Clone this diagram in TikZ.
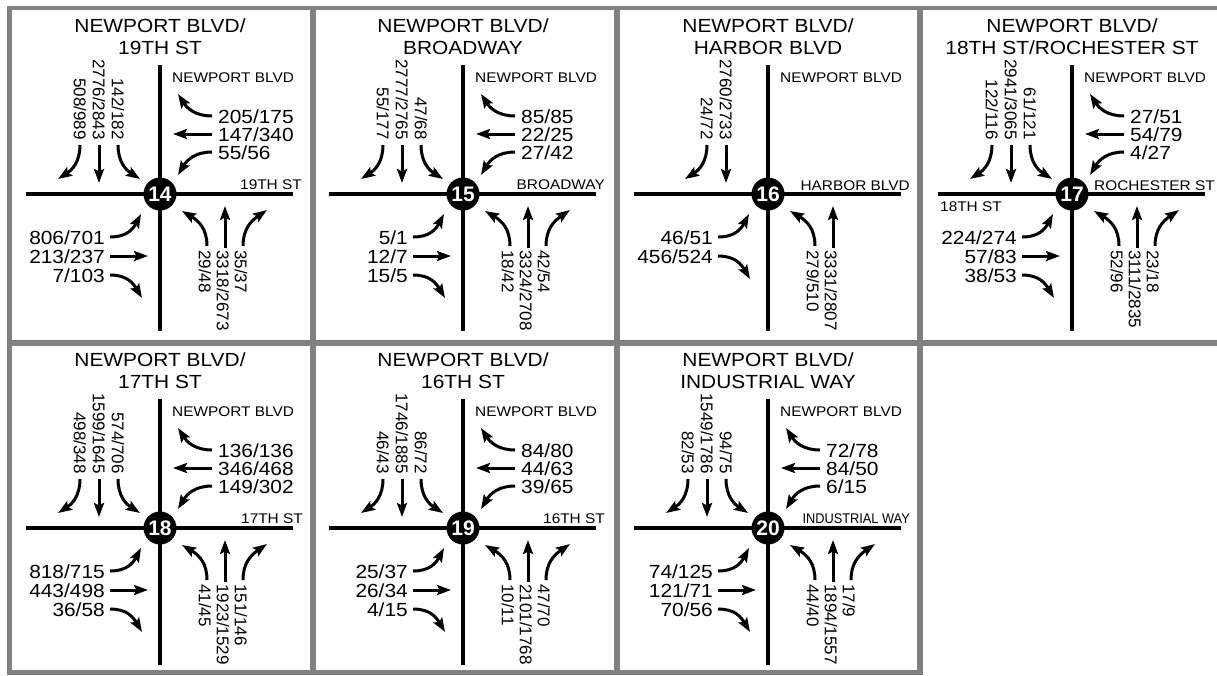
\documentclass[tikz,border=0pt]{standalone}
\usepackage{fontspec}
\setmainfont{Liberation Sans}[FakeStretch=1.1]
\newfontfamily\rotf{Liberation Sans}
\newfontfamily\numf{Liberation Sans}
\usetikzlibrary{arrows.meta}
\definecolor{framegray}{RGB}{128,128,130}
\newcounter{lbl}
\tikzset{
  road/.style={line width=3.2pt},
  mv/.style={line width=3pt,-{Stealth[length=14pt,width=10pt,inset=2.5pt]}},
  vol/.style={font=\fontsize{19}{19}\selectfont,inner sep=0pt},
  rvol/.style={font=\rotf\fontsize{17}{17}\selectfont,inner sep=0pt,rotate=-90,text height=12.2pt,text depth=0pt},
  ttl/.style={font=\fontsize{19}{19}\selectfont,inner sep=0pt},
  street/.style={font=\fontsize{14}{14}\selectfont,inner sep=0pt},
  num/.style={circle,fill=black,minimum size=33pt,inner sep=0pt,text=white,font=\numf\bfseries\fontsize{21}{21}\selectfont},
  frameline/.style={draw=framegray}
}
\newcommand\panelbase[2]{%
  \coordinate (rn#1) at (0,-129); \coordinate (rs#1) at (0,137);
  \coordinate (rw#1) at (-134,0); \coordinate (re#1) at (133,0);
  \draw[road] (rn#1) -- (rs#1);
  \draw[road] (rw#1) -- (re#1);
  \node[num] (c#1) at (0,0) {#1};
  \node[ttl,anchor=base] (ta#1) at (0,-162) {NEWPORT BLVD/};
  \node[ttl,anchor=base] (tb#1) at (0,-140) {#2};
  \node[street,anchor=base west] (nb#1) at (12,-112) {NEWPORT BLVD};}
% southbound (top-left), argument: column x
\newcommand\mvSBr[2]{\stepcounter{lbl}%
  \draw[mv] (#1,-49) .. controls (#1,-32) and ({#1-8},-24) .. ({#1-22},-15);
  \node[rvol,anchor=east] (L\arabic{lbl}) at (#1,-54) {#2};}
\newcommand\mvSBt[2]{\stepcounter{lbl}%
  \draw[mv] (#1,-49) -- (#1,-11);
  \node[rvol,anchor=east] (L\arabic{lbl}) at (#1,-54) {#2};}
\newcommand\mvSBl[2]{\stepcounter{lbl}%
  \draw[mv] (#1,-49) .. controls (#1,-32) and ({#1+8},-24) .. ({#1+22},-15);
  \node[rvol,anchor=east] (L\arabic{lbl}) at (#1,-54) {#2};}
% westbound (top-right), argument: row y
\newcommand\mvWBr[2]{\stepcounter{lbl}%
  \draw[mv] (52,#1) .. controls (35,#1) and (27,{#1-8}) .. (18,{#1-22});
  \node[vol,anchor=base west] (L\arabic{lbl}) at (58,{#1+7}) {#2};}
\newcommand\mvWBt[2]{\stepcounter{lbl}%
  \draw[mv] (52,#1) -- (13,#1);
  \node[vol,anchor=base west] (L\arabic{lbl}) at (58,{#1+7}) {#2};}
\newcommand\mvWBl[2]{\stepcounter{lbl}%
  \draw[mv] (52,#1) .. controls (35,#1) and (27,{#1+8}) .. (18,{#1+23});
  \node[vol,anchor=base west] (L\arabic{lbl}) at (58,{#1+7}) {#2};}
% eastbound (bottom-left), argument: row y
\newcommand\mvEBl[2]{\stepcounter{lbl}%
  \draw[mv] (-50,#1) .. controls (-33,#1) and (-27,{#1-8}) .. (-19,{#1-23});
  \node[vol,anchor=base east] (L\arabic{lbl}) at (-55,{#1+7}) {#2};}
\newcommand\mvEBt[2]{\stepcounter{lbl}%
  \draw[mv] (-50,#1) -- (-12,#1);
  \node[vol,anchor=base east] (L\arabic{lbl}) at (-55,{#1+7}) {#2};}
\newcommand\mvEBr[2]{\stepcounter{lbl}%
  \draw[mv] (-50,#1) .. controls (-33,#1) and (-27,{#1+8}) .. (-18,{#1+23});
  \node[vol,anchor=base east] (L\arabic{lbl}) at (-55,{#1+7}) {#2};}
% northbound (bottom-right), argument: column x
\newcommand\mvNBl[2]{\stepcounter{lbl}%
  \draw[mv] (#1,52) .. controls (#1,35) and ({#1-8},27) .. ({#1-25},17);
  \node[rvol,anchor=west] (L\arabic{lbl}) at ({#1-2},56) {#2};}
\newcommand\mvNBt[2]{\stepcounter{lbl}%
  \draw[mv] (#1,54) -- (#1,12);
  \node[rvol,anchor=west] (L\arabic{lbl}) at ({#1-2},56) {#2};}
\newcommand\mvNBr[2]{\stepcounter{lbl}%
  \draw[mv] (#1,52) .. controls (#1,35) and ({#1+8},27) .. ({#1+24},16);
  \node[rvol,anchor=west] (L\arabic{lbl}) at ({#1-2},56) {#2};}
\begin{document}
\begin{tikzpicture}[x=1pt,y=-1pt]
\useasboundingbox (0,0) rectangle (1217,675);
\clip (0,0) rectangle (1217,675);
\fill[white] (0,0) rectangle (1217,675);
% frame
\draw[frameline,line width=4.5pt] (7,8) -- (1217,8);
\draw[frameline,line width=6pt] (7,343) -- (1217,343);
\draw[frameline,line width=5pt] (7,672.5) -- (923,672.5);
\draw[frameline,line width=5pt] (9.5,5.75) -- (9.5,675);
\draw[frameline,line width=6pt] (313,5.75) -- (313,675);
\draw[frameline,line width=6pt] (617,5.75) -- (617,675);
\draw[frameline,line width=6pt] (920,5.75) -- (920,675);
% 14
\begin{scope}[shift={(160,194)}]
  \panelbase{14}{19TH ST}
  \node[street,anchor=base east] (s14) at (142,-5) {19TH ST};
  \mvSBr{-80}{508/989} \mvSBt{-61}{2776/2843} \mvSBl{-42}{142/182}
  \mvWBr{-78}{205/175} \mvWBt{-60}{147/340} \mvWBl{-42}{55/56}
  \mvEBl{43}{806/701} \mvEBt{62}{213/237} \mvEBr{81}{7/103}
  \mvNBl{47}{29/48} \mvNBt{65}{3318/2673} \mvNBr{83}{35/37}
\end{scope}
% 15
\begin{scope}[shift={(463,194)}]
  \panelbase{15}{BROADWAY}
  \node[street,anchor=base east] (s15) at (142,-5) {BROADWAY};
  \mvSBr{-80}{55/177} \mvSBt{-61}{2777/2765} \mvSBl{-42}{47/68}
  \mvWBr{-78}{85/85} \mvWBt{-60}{22/25} \mvWBl{-42}{27/42}
  \mvEBl{43}{5/1} \mvEBt{62}{12/7} \mvEBr{81}{15/5}
  \mvNBl{47}{18/42} \mvNBt{65}{3324/2708} \mvNBr{83}{42/54}
\end{scope}
% 16
\begin{scope}[shift={(768,194)}]
  \panelbase{16}{HARBOR BLVD}
  \node[street,anchor=base east] (s16) at (142,-4) {HARBOR BLVD};
  \mvSBr{-61}{24/72} \mvSBt{-42}{2760/2733}
  \mvEBl{43}{46/51} \mvEBr{62}{456/524}
  \mvNBl{47}{279/510} \mvNBt{65}{3331/2807}
\end{scope}
% 17
\begin{scope}[shift={(1072,194)}]
  \panelbase{17}{18TH ST/ROCHESTER ST}
  \node[street,anchor=base east] (s17) at (143,-4) {ROCHESTER ST};
  \node[street,anchor=base west] (w17) at (-132,17) {18TH ST};
  \mvSBr{-80}{122/116} \mvSBt{-61}{2941/3065} \mvSBl{-42}{61/121}
  \mvWBr{-78}{27/51} \mvWBt{-60}{54/79} \mvWBl{-42}{4/27}
  \mvEBl{43}{224/274} \mvEBt{62}{57/83} \mvEBr{81}{38/53}
  \mvNBl{47}{52/96} \mvNBt{65}{3111/2835} \mvNBr{83}{23/18}
\end{scope}
% 18
\begin{scope}[shift={(160,528)}]
  \panelbase{18}{17TH ST}
  \node[street,anchor=base east] (s18) at (143,-5) {17TH ST};
  \mvSBr{-80}{498/348} \mvSBt{-61}{1599/1645} \mvSBl{-42}{574/706}
  \mvWBr{-78}{136/136} \mvWBt{-60}{346/468} \mvWBl{-42}{149/302}
  \mvEBl{43}{818/715} \mvEBt{62}{443/498} \mvEBr{81}{36/58}
  \mvNBl{47}{41/45} \mvNBt{65}{1923/1529} \mvNBr{83}{151/146}
\end{scope}
% 19
\begin{scope}[shift={(463,528)}]
  \panelbase{19}{16TH ST}
  \node[street,anchor=base east] (s19) at (142,-5) {16TH ST};
  \mvSBr{-80}{46/43} \mvSBt{-61}{1746/1885} \mvSBl{-42}{86/72}
  \mvWBr{-78}{84/80} \mvWBt{-60}{44/63} \mvWBl{-42}{39/65}
  \mvEBl{43}{25/37} \mvEBt{62}{26/34} \mvEBr{81}{4/15}
  \mvNBl{47}{10/11} \mvNBt{65}{2101/1768} \mvNBr{83}{47/70}
\end{scope}
% 20
\begin{scope}[shift={(768,528)}]
  \panelbase{20}{INDUSTRIAL WAY}
  \node[street,anchor=base east] (s20) at (142,-5) {\scalebox{0.83}[1]{INDUSTRIAL WAY}};
  \mvSBr{-80}{82/53} \mvSBt{-61}{1549/1786} \mvSBl{-42}{94/75}
  \mvWBr{-78}{72/78} \mvWBt{-60}{84/50} \mvWBl{-42}{6/15}
  \mvEBl{43}{74/125} \mvEBt{62}{121/71} \mvEBr{81}{70/56}
  \mvNBl{47}{44/40} \mvNBt{65}{1894/1557} \mvNBr{83}{17/9}
\end{scope}
\end{tikzpicture}
\end{document}
